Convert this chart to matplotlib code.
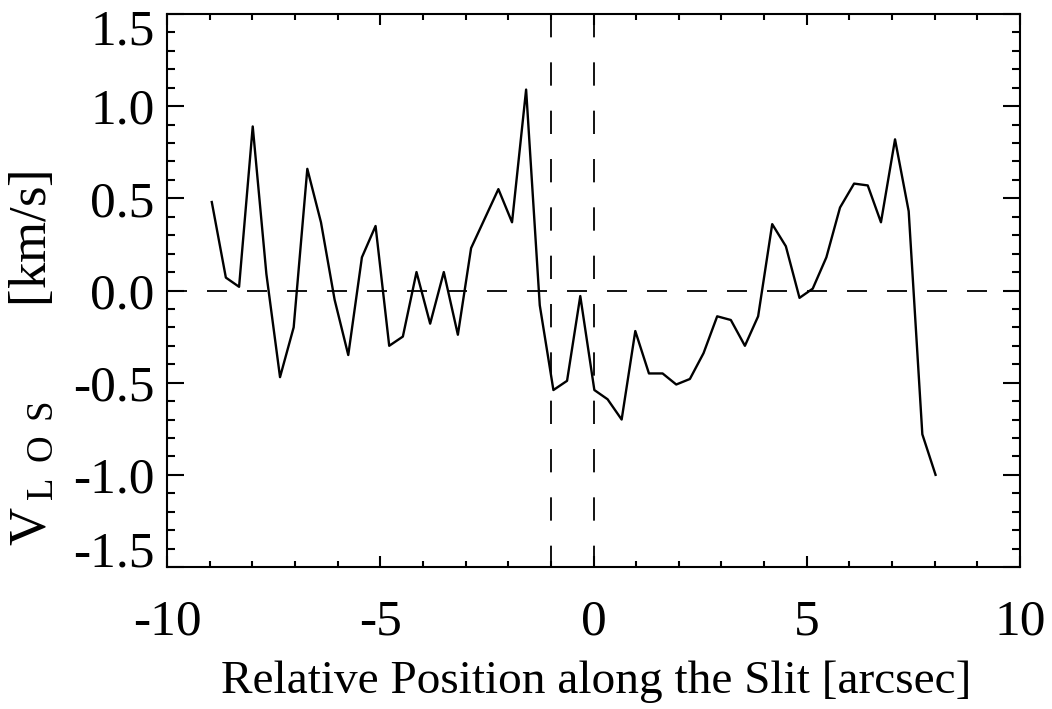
import numpy as np
import matplotlib
matplotlib.use('Agg')
import matplotlib.pyplot as plt
from matplotlib.transforms import ScaledTranslation

plt.rcParams['font.family'] = ['Liberation Serif', 'DejaVu Serif']
plt.rcParams['mathtext.fontset'] = 'custom'
plt.rcParams['mathtext.rm'] = 'Liberation Serif'
plt.rcParams['mathtext.it'] = 'Liberation Serif:italic'

# position along the slit [arcsec] and line-of-sight velocity [km/s]
pos = [-8.95, -8.62, -8.31, -7.99, -7.67, -7.35, -7.03, -6.71, -6.39, -6.07,
       -5.75, -5.43, -5.11, -4.79, -4.47, -4.15, -3.83, -3.51, -3.18, -2.87,
       -2.55, -2.23, -1.91, -1.58, -1.26, -0.94, -0.62, -0.31, 0.02, 0.33,
       0.66, 0.98, 1.30, 1.62, 1.94, 2.26, 2.58, 2.90, 3.22, 3.55,
       3.86, 4.19, 4.51, 4.83, 5.14, 5.46, 5.78, 6.11, 6.43, 6.74,
       7.07, 7.39, 7.71, 8.02]
vlos = [0.48, 0.07, 0.02, 0.89, 0.09, -0.47, -0.20, 0.66, 0.37, -0.05,
        -0.35, 0.18, 0.35, -0.30, -0.25, 0.10, -0.18, 0.10, -0.24, 0.23,
        0.39, 0.55, 0.37, 1.09, -0.08, -0.54, -0.49, -0.03, -0.54, -0.59,
        -0.70, -0.22, -0.45, -0.45, -0.51, -0.48, -0.34, -0.14, -0.16, -0.30,
        -0.14, 0.36, 0.24, -0.04, 0.01, 0.18, 0.45, 0.58, 0.57, 0.37,
        0.82, 0.43, -0.78, -1.00]

xlim = (-10, 10)
ylim = (-1.5, 1.5)
marks = [-1.0, 0.0]  # vertical reference positions

fig = plt.figure(figsize=(10.52, 7.09), dpi=100)
ax = fig.add_axes([167 / 1052, 1 - 567 / 709, 853 / 1052, 553 / 709])

lw = 1.7
ax.plot(pos, vlos, color='black', lw=lw)
ax.plot(xlim, [0, 0], color='black', lw=1.3, dashes=(14.4 / 1.3, 14.4 / 1.3),
        dash_capstyle='butt')
for xm in marks:
    ax.plot([xm, xm], [ylim[1], ylim[0]], color='black', lw=1.3,
            dashes=(16.8 / 1.3, 18.0 / 1.3), dash_capstyle='butt')

ax.set_xlim(xlim)
ax.set_ylim(ylim)
ax.set_xticks([-10, -5, 0, 5, 10])
ax.set_xticks(np.arange(-10, 11, 1), minor=True)
ax.set_yticks([-1.5, -1.0, -0.5, 0.0, 0.5, 1.0, 1.5])
ax.set_yticks(np.arange(-1.5, 1.51, 0.1), minor=True)
ax.set_yticklabels(['-1.5', '-1.0', '-0.5', '0.0', '0.5', '1.0', '1.5'])
ax.set_xticklabels(['-10', '-5', '0', '5', '10'])

for s in ax.spines.values():
    s.set_linewidth(1.5)

ax.tick_params(which='both', direction='in', top=True, right=True,
               width=1.5, labelsize=37)
ax.tick_params(axis='x', which='major', length=8, pad=23)
ax.tick_params(axis='x', which='minor', length=4)
ax.tick_params(axis='y', which='major', length=12.2, pad=9)
ax.tick_params(axis='y', which='minor', length=6.1)

# end labels sit a little inside the frame, as in the original
labels = ax.get_yticklabels()
labels[0].set_transform(labels[0].get_transform() +
                        ScaledTranslation(0, 18 / 100, fig.dpi_scale_trans))
labels[-1].set_transform(labels[-1].get_transform() +
                         ScaledTranslation(0, -13 / 100, fig.dpi_scale_trans))

ax.set_xlabel('Relative Position along the Slit [arcsec]', fontsize=34)
ax.set_ylabel(r'V$_{\;\mathrm{L\;\;O\;\;S}}\qquad\;\,$[km/s]', fontsize=38)
ax.xaxis.set_label_coords(0.503, -0.207)
ax.xaxis.label.set_va('center')
ax.yaxis.set_label_coords(-0.157, 0.378)
ax.yaxis.label.set_va('center')

fig.savefig('out.png', dpi=100)
